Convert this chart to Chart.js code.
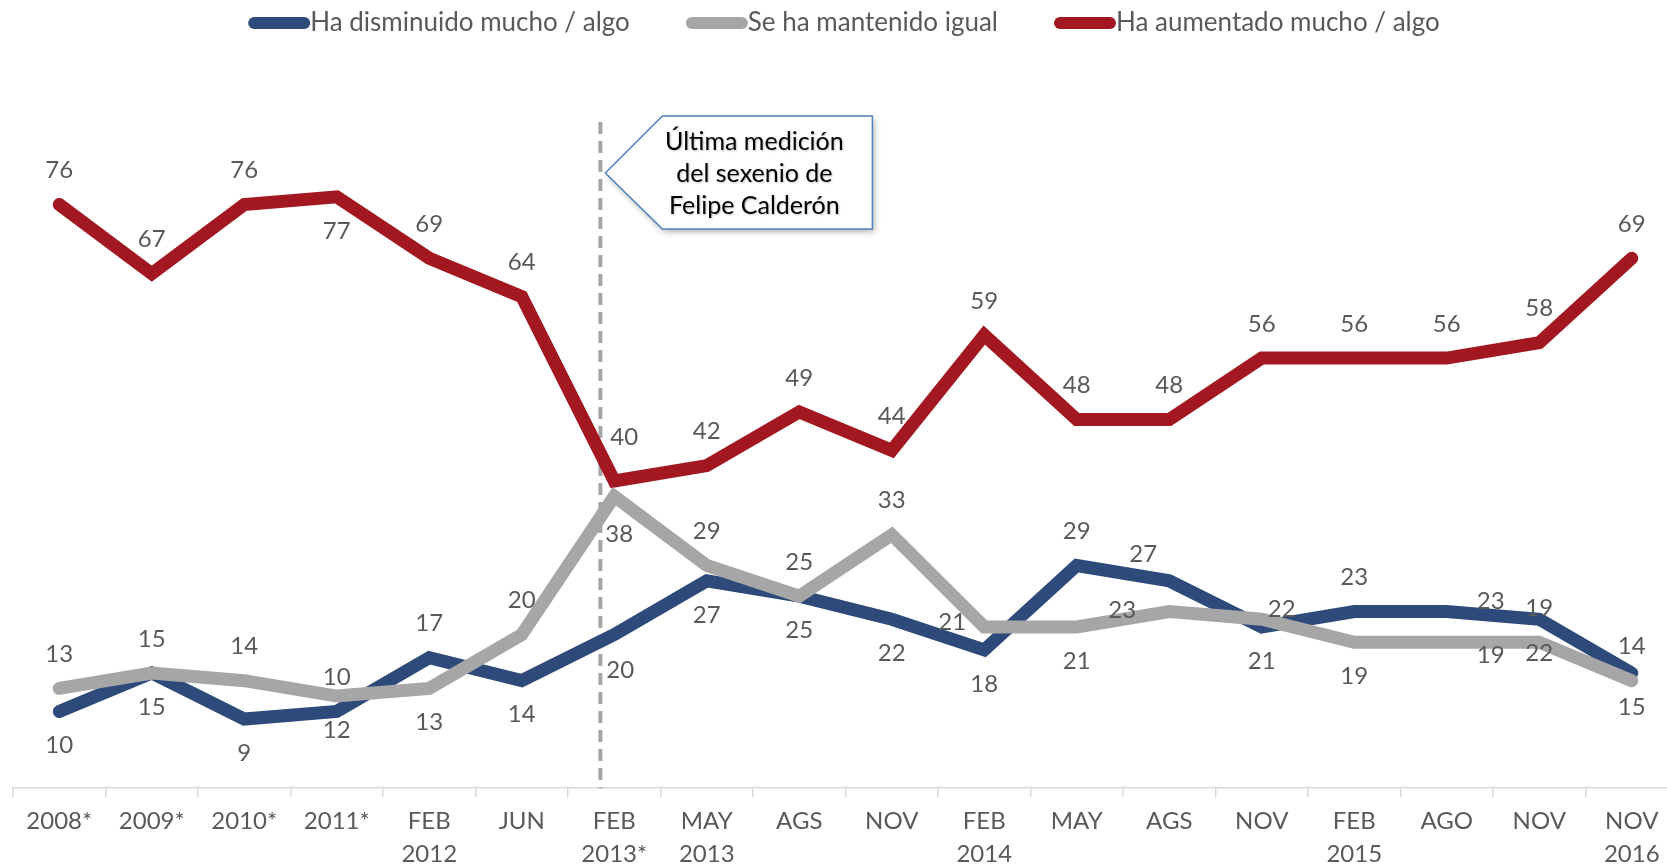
<!DOCTYPE html>
<html>
<head>
<meta charset="utf-8">
<title>Percepción de la inseguridad</title>
<script src="https://cdn.jsdelivr.net/npm/chart.js@4.4.1/dist/chart.umd.min.js"></script>
<style>
  html, body { margin: 0; padding: 0; background: #fff; overflow: hidden; }
  canvas { display: block; }
</style>
</head>
<body>
<canvas id="trendChart" width="1680" height="878"></canvas>
<script>
// categories (x axis)
const periods = ['2008*', '2009*', '2010*', '2011*', ['FEB', '2012'], 'JUN', ['FEB', '2013*'], ['MAY', '2013'],
  'AGS', 'NOV', ['FEB', '2014'], 'MAY', 'AGS', 'NOV', ['FEB', '2015'], 'AGO', 'NOV', ['NOV', '2016']];

// series values
const disminuido = [10, 15, 9, 10, 17, 14, 20, 27, 25, 22, 18, 29, 27, 21, 23, 23, 22, 15];
const igual      = [13, 15, 14, 12, 13, 20, 38, 29, 25, 33, 21, 21, 23, 22, 19, 19, 19, 14];
const aumentado  = [76, 67, 76, 77, 69, 64, 40, 42, 49, 44, 59, 48, 48, 56, 56, 56, 58, 69];

const seriesNames = ['Ha disminuido mucho / algo', 'Se ha mantenido igual', 'Ha aumentado mucho / algo'];
const calloutLines = ['Última medición', 'del sexenio de', 'Felipe Calderón'];

// where each value label sits relative to its point
const posDisminuido = ['b', 'b', 'b', 'a', 'a', 'b', 'b3', 'b', 'b', 'b', 'b', 'a', 'al', 'b', 'a', 'ar', 'b', 'b'];
const posIgual      = ['a', 'a', 'a', 'b', 'b', 'a', 'b2', 'a', 'a', 'a', 'l', 'b', 'L', 'r', 'b', 'br', 'a', 'a'];
const posAumentado  = ['a', 'a', 'a', 'b', 'a', 'a', 'a2', 'a', 'a', 'a', 'a', 'a', 'a', 'a', 'a', 'a', 'a', 'a'];

const labelOffsets = {
  a: [0, -34], b: [0, 34], a2: [10, -44], b2: [5, 38], b3: [6, 36],
  l: [-32, -5], L: [-47, -1], r: [20, -10], al: [-26, -27], ar: [44, -10], br: [44, 13]
};

const FONT = 'Lato, "Open Sans", sans-serif';
const TEXT_GREY = '#595959';

// value labels next to the points
const valueLabels = {
  id: 'valueLabels',
  afterDatasetsDraw(chart) {
    const ctx = chart.ctx;
    ctx.save();
    ctx.font = '24px ' + FONT;
    ctx.fillStyle = TEXT_GREY;
    ctx.textAlign = 'center';
    ctx.textBaseline = 'middle';
    chart.data.datasets.forEach((ds, i) => {
      const meta = chart.getDatasetMeta(i);
      meta.data.forEach((pt, j) => {
        const off = labelOffsets[ds.labelPos[j]];
        ctx.fillText(String(ds.data[j]), pt.x + off[0], pt.y + off[1]);
      });
    });
    ctx.restore();
  }
};

// dashed marker + callout box
const callout = {
  id: 'callout',
  beforeDatasetsDraw(chart) {
    const ctx = chart.ctx;
    const x = chart.scales.x.getPixelForValue(5.85);
    ctx.save();
    ctx.strokeStyle = '#a6a6a6';
    ctx.lineWidth = 4;
    ctx.setLineDash([12, 7]);
    ctx.beginPath();
    ctx.moveTo(x, 122);
    ctx.lineTo(x, chart.chartArea.bottom);
    ctx.stroke();
    ctx.restore();
  },
  afterDraw(chart) {
    const ctx = chart.ctx;
    const tipX = chart.scales.x.getPixelForValue(5.85) + 5;
    const tipY = 173, left = tipX + 57, right = tipX + 267, top = 116, bottom = 229;
    ctx.save();
    ctx.beginPath();
    ctx.moveTo(tipX, tipY);
    ctx.lineTo(left, top);
    ctx.lineTo(right, top);
    ctx.lineTo(right, bottom);
    ctx.lineTo(left, bottom);
    ctx.closePath();
    ctx.shadowColor = 'rgba(0,0,0,0.3)';
    ctx.shadowBlur = 6;
    ctx.shadowOffsetX = 2;
    ctx.shadowOffsetY = 3;
    ctx.fillStyle = '#fff';
    ctx.fill();
    ctx.shadowColor = 'transparent';
    ctx.strokeStyle = '#4f81bd';
    ctx.lineWidth = 1.5;
    ctx.stroke();
    ctx.font = '25px ' + FONT;
    ctx.fillStyle = '#000';
    ctx.textAlign = 'center';
    ctx.textBaseline = 'middle';
    ctx.shadowColor = 'rgba(0,0,0,0.25)';
    ctx.shadowBlur = 2;
    ctx.shadowOffsetX = 1;
    ctx.shadowOffsetY = 1;
    const cx = left + 92;
    calloutLines.forEach((t, k) => ctx.fillText(t, cx, 142 + k * 32));
    ctx.restore();
  }
};

// legend across the top
const topLegend = {
  id: 'topLegend',
  afterDraw(chart) {
    const ctx = chart.ctx;
    ctx.save();
    ctx.font = '26px ' + FONT;
    ctx.textBaseline = 'middle';
    const mark = 62, space = 56, y = 23;
    const items = chart.data.datasets.map(ds => ({ text: ds.label, color: ds.borderColor, w: ctx.measureText(ds.label).width }));
    const total = items.reduce((s, it) => s + mark + it.w, 0) + space * (items.length - 1);
    let x = chart.width / 2 - total / 2 + 4;
    items.forEach(it => {
      ctx.strokeStyle = it.color;
      ctx.lineWidth = 12;
      ctx.lineCap = 'round';
      ctx.beginPath();
      ctx.moveTo(x + 6, y);
      ctx.lineTo(x + mark - 6, y);
      ctx.stroke();
      ctx.fillStyle = TEXT_GREY;
      ctx.fillText(it.text, x + mark, y);
      x += mark + it.w + space;
    });
    ctx.restore();
  }
};

function lineSet(label, data, color, pos, order) {
  return {
    label: label,
    data: data,
    borderColor: color,
    backgroundColor: color,
    borderWidth: 13,
    borderCapStyle: 'round',
    borderJoinStyle: 'miter',
    pointRadius: 0,
    tension: 0,
    labelPos: pos,
    order: order
  };
}

const ctx = document.getElementById('trendChart').getContext('2d');
const trendChart = new Chart(ctx, {
  type: 'line',
  data: {
    labels: periods,
    datasets: [
      lineSet(seriesNames[0], disminuido, '#2d4a7a', posDisminuido, 3),
      lineSet(seriesNames[1], igual, '#a6a6a6', posIgual, 1),
      lineSet(seriesNames[2], aumentado, '#a31820', posAumentado, 2)
    ]
  },
  options: {
    responsive: false,
    animation: false,
    devicePixelRatio: 1,
    layout: { padding: { top: 97, left: 13, right: 2, bottom: 0 } },
    plugins: {
      legend: { display: false },
      tooltip: { enabled: false }
    },
    scales: {
      x: {
        offset: true,
        grid: { display: true, offset: true, drawOnChartArea: false, color: '#d9d9d9', lineWidth: 1.5, tickLength: 9 },
        border: { display: true, color: '#d9d9d9', width: 1.5 },
        ticks: {
          color: TEXT_GREY,
          maxRotation: 0,
          autoSkip: false,
          padding: 8,
          font: { family: FONT, size: 24, lineHeight: 1.35 }
        }
      },
      y: {
        display: false,
        min: 0,
        max: 90
      }
    }
  },
  plugins: [callout, valueLabels, topLegend]
});
</script>
</body>
</html>
